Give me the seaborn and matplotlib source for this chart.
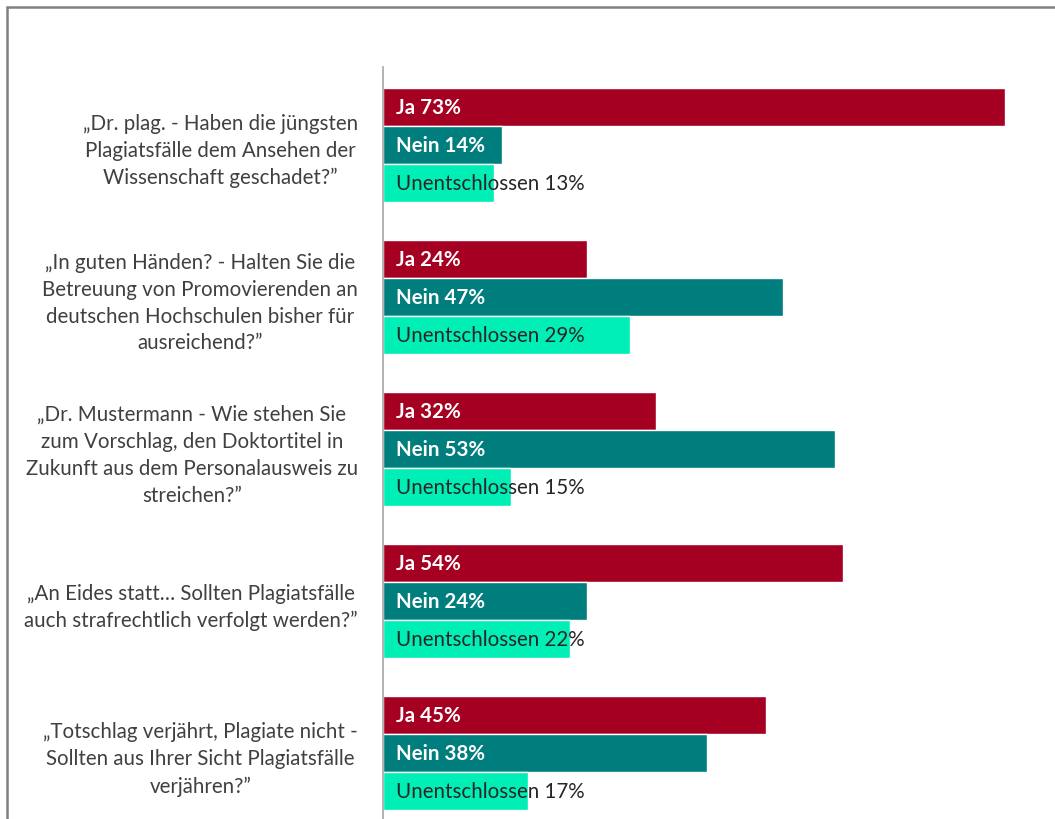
import matplotlib
matplotlib.use("Agg")
import matplotlib.pyplot as plt
import seaborn as sns
import pandas as pd
from matplotlib.patches import Rectangle

questions = [
    "„Dr. plag. - Haben die jüngsten\nPlagiatsfälle dem Ansehen der\nWissenschaft geschadet?”",
    "„In guten Händen? - Halten Sie die\nBetreuung von Promovierenden an\ndeutschen Hochschulen bisher für\nausreichend?”",
    "„Dr. Mustermann - Wie stehen Sie\nzum Vorschlag, den Doktortitel in\nZukunft aus dem Personalausweis zu\nstreichen?”",
    "„An Eides statt… Sollten Plagiatsfälle\nauch strafrechtlich verfolgt werden?”",
    "„Totschlag verjährt, Plagiate nicht -\nSollten aus Ihrer Sicht Plagiatsfälle\nverjähren?”",
]
answers = ["Ja", "Nein", "Unentschlossen"]
ja = [73, 24, 32, 54, 45]
nein = [14, 47, 53, 24, 38]
unentschlossen = [13, 29, 15, 22, 17]
colors = ["#A50021", "#007D7D", "#00EFB6"]

rows = []
for name, vals in zip(answers, [ja, nein, unentschlossen]):
    for q, v in zip(questions, vals):
        rows.append({"question": q, "answer": name, "value": v})
df = pd.DataFrame(rows)

sns.set_style("white")
plt.rcParams["font.family"] = ["Lato", "DejaVu Sans"]

W, H = 1055, 820
fig = plt.figure(figsize=(W / 100, H / 100), dpi=100)
ax = fig.add_axes([383 / W, 0, 1 - 383 / W, 1 - 68 / H])

sns.barplot(data=df, y="question", x="value", hue="answer", order=questions,
            hue_order=answers, palette=colors, orient="h", width=0.75,
            saturation=1, legend=False, ax=ax, errorbar=None)

ax.set_xlim(0, (W - 383) / 8.52)
ax.set_ylim(4.434, -0.51)

for i, cont in enumerate(ax.containers):
    name = answers[i]
    for bar, v in zip(cont, [ja, nein, unentschlossen][i]):
        y = bar.get_y() + bar.get_height() / 2
        if name == "Unentschlossen":
            ax.text(1.5, y, f"{name} {v}%", va="center", ha="left",
                    fontsize=14.8, color="#262626")
        else:
            ax.text(1.5, y, f"{name} {v}%", va="center", ha="left",
                    fontsize=14.8, color="white", fontweight="bold")

ax.set_xlabel("")
ax.set_ylabel("")
ax.set_xticks([])
ax.set_yticks(range(len(questions)))
ax.set_yticklabels(questions, multialignment="center", fontsize=14.8,
                   color="#404040", linespacing=1.43)
ax.tick_params(axis="y", length=0, pad=18)
for s in ["top", "right", "bottom"]:
    ax.spines[s].set_visible(False)
ax.spines["left"].set_color("#A6A6A6")
ax.spines["left"].set_linewidth(1.2)

fig.patches.append(Rectangle((7 / W, -0.1), 1.2, 1.1 - 8 / H,
                             transform=fig.transFigure, fill=False,
                             edgecolor="#808080", linewidth=1.8))

fig.savefig("out.png", dpi=100)
